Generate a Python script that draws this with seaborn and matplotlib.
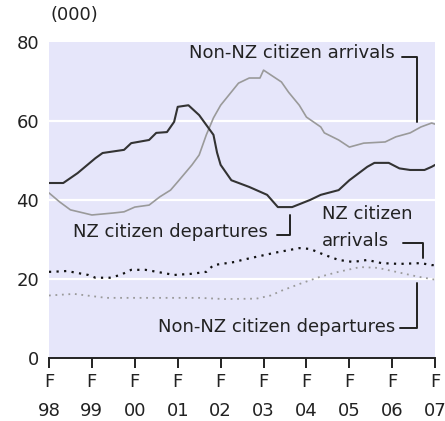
import pandas as pd
import matplotlib
matplotlib.use("Agg")
import matplotlib.pyplot as plt
import seaborn as sns

# monthly readings (000), Feb 1998 - Feb 2007
nz_dep_dates = ["1998-02", "1998-06", "1998-10", "1999-03", "1999-05", "1999-11",
                "2000-01", "2000-06", "2000-08", "2000-11", "2001-01", "2001-02",
                "2001-05", "2001-08", "2001-10", "2001-12", "2002-01", "2002-02",
                "2002-05", "2002-10", "2003-03", "2003-06", "2003-10", "2004-03",
                "2004-06", "2004-11", "2005-02", "2005-07", "2005-09", "2006-01",
                "2006-04", "2006-07", "2006-11", "2007-01", "2007-02"]
nz_dep = [44.3, 44.3, 46.8, 50.6, 51.9, 52.7, 54.4, 55.2, 57.0, 57.2, 59.8, 63.6,
          64.0, 61.5, 59.0, 56.5, 52.0, 48.9, 45.0, 43.3, 41.3, 38.2, 38.2, 40.0,
          41.3, 42.5, 45.0, 48.4, 49.4, 49.4, 48.0, 47.6, 47.6, 48.4, 48.9]

non_nz_arr_dates = ["1998-02", "1998-05", "1998-08", "1999-02", "1999-08", "1999-11",
                    "2000-02", "2000-06", "2000-09", "2000-12", "2001-02", "2001-06",
                    "2001-08", "2001-10", "2001-12", "2002-02", "2002-07", "2002-10",
                    "2003-01", "2003-02", "2003-07", "2003-09", "2003-12", "2004-02",
                    "2004-06", "2004-07", "2004-11", "2005-02", "2005-06", "2005-12",
                    "2006-03", "2006-07", "2006-10", "2007-01", "2007-02"]
non_nz_arr = [41.8, 39.5, 37.5, 36.2, 36.7, 37.0, 38.2, 38.7, 40.8, 42.5, 44.6, 48.9,
              51.4, 56.5, 60.8, 64.0, 69.6, 70.9, 70.9, 72.9, 69.9, 67.3, 64.0, 61.0,
              58.5, 57.0, 55.2, 53.4, 54.4, 54.7, 56.0, 57.0, 58.5, 59.5, 59.2]

nz_arr_dates = ["1998-02", "1998-03", "1998-07", "1999-01", "1999-03", "1999-07",
                "1999-10", "2000-01", "2000-05", "2000-10", "2001-01", "2001-06",
                "2001-10", "2001-12", "2002-06", "2002-08", "2003-05", "2003-12",
                "2004-03", "2004-07", "2004-11", "2005-03", "2005-07", "2005-11",
                "2006-04", "2006-10", "2007-01", "2007-02"]
nz_arr = [21.8, 21.8, 22.0, 21.0, 20.3, 20.3, 21.0, 22.3, 22.3, 21.5, 21.0, 21.3,
          21.8, 23.5, 24.3, 24.8, 26.6, 27.8, 27.6, 26.1, 24.8, 24.3, 24.8, 24.0,
          23.8, 24.0, 23.5, 23.5]

non_nz_dep_dates = ["1998-02", "1998-09", "1999-06", "2001-08", "2002-03", "2002-12",
                    "2003-04", "2003-07", "2003-12", "2004-06", "2004-11", "2005-05",
                    "2005-10", "2006-04", "2006-09", "2007-02"]
non_nz_dep = [15.8, 16.2, 15.2, 15.2, 14.9, 15.0, 15.8, 17.0, 18.7, 20.6, 21.8, 23.0,
              22.8, 21.6, 20.6, 19.8]

years = ["98", "99", "00", "01", "02", "03", "04", "05", "06", "07"]


def months(dates):
    # months since Feb 1998
    p = pd.PeriodIndex(dates, freq="M")
    return [(x - pd.Period("1998-02", freq="M")).n for x in p]


sns.set_theme(style="white")
plt.rcParams["font.family"] = ["DejaVu Sans"]

fig = plt.figure(figsize=(4.45, 4.21), dpi=100)
ax = fig.add_axes([0.110, 0.150, 0.868, 0.750])
ax.set_facecolor("#E6E6FA")

for v in (20, 40, 60):
    ax.axhline(v, color="white", lw=1.6, zorder=1)

sns.lineplot(x=months(non_nz_arr_dates), y=non_nz_arr, ax=ax, color="#9a9a9a", lw=1.2, zorder=3)
sns.lineplot(x=months(nz_dep_dates), y=nz_dep, ax=ax, color="#333333", lw=1.5, zorder=3)
sns.lineplot(x=months(non_nz_dep_dates), y=non_nz_dep, ax=ax, color="#9a9a9a", lw=1.3,
             linestyle=(0, (1, 2.6)), zorder=3)
sns.lineplot(x=months(nz_arr_dates), y=nz_arr, ax=ax, color="#111111", lw=1.6,
             linestyle=(0, (1, 2.4)), zorder=3)

ax.set_xlim(0, 108)
ax.set_ylim(0, 80)
ax.set_yticks([0, 20, 40, 60, 80])
ax.set_yticklabels(["0", "20", "40", "60", "80"], fontsize=13, color="#222222")
ax.set_xticks(range(0, 109, 12))
ax.set_xticklabels(["F\n" + y for y in years], fontsize=13, color="#222222", linespacing=1.8)
ax.tick_params(axis="y", length=0, pad=7)
ax.tick_params(axis="x", direction="out", length=7, width=1.4, color="#222222", pad=4, bottom=True)
for s in ("top", "right", "left"):
    ax.spines[s].set_visible(False)
ax.spines["bottom"].set_color("#222222")
ax.spines["bottom"].set_linewidth(1.4)
ax.set_xlabel("")
ax.set_ylabel("")

txt = dict(fontsize=13, color="#222222")
brk = dict(color="#222222", lw=1.4, clip_on=False)
ax.text(0.3, 86.8, "(000)", ha="left", va="center", clip_on=False, **txt)

ax.text(96.8, 77.2, "Non-NZ citizen arrivals", ha="right", va="center", **txt)
ax.plot([98.7, 102.9, 102.9], [76.2, 76.2, 59.8], **brk)

ax.text(61.3, 31.9, "NZ citizen departures", ha="right", va="center", **txt)
ax.plot([63.8, 67.4, 67.4], [31.1, 31.1, 36.2], **brk)

ax.text(76.4, 33.0, "NZ citizen\narrivals", ha="left", va="center", linespacing=1.6, **txt)
ax.plot([99.0, 104.6, 104.6], [29.1, 29.1, 25.3], **brk)

ax.text(96.8, 7.8, "Non-NZ citizen departures", ha="right", va="center", **txt)
ax.plot([98.2, 102.9, 102.9], [7.6, 7.6, 19.0], **brk)

fig.savefig("out.png", dpi=100)
